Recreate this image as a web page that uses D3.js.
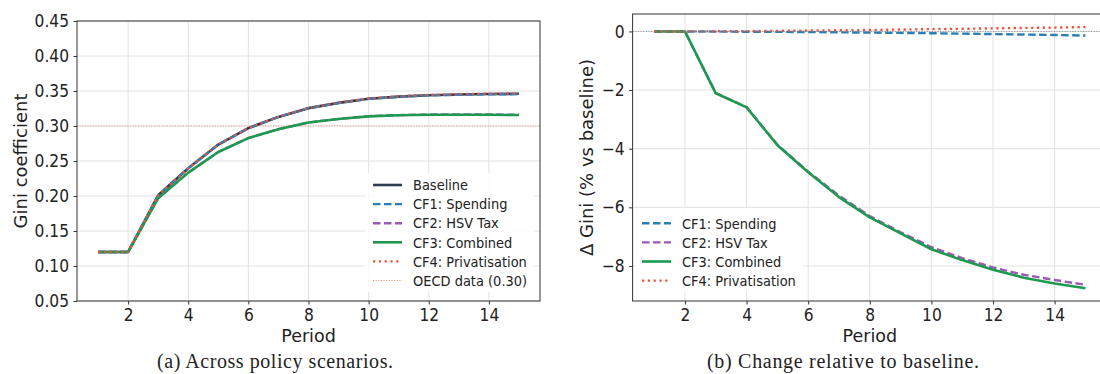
<!DOCTYPE html>
<html>
<head>
<meta charset="utf-8">
<script src="https://cdn.jsdelivr.net/npm/d3@7"></script>
<style>
  body { margin: 0; background: #fff; }
  svg { display: block; }
  text { font-family: "DejaVu Sans", sans-serif; fill: #222; }
  .caption { font-family: "Liberation Serif", "DejaVu Serif", serif; }
  .tall { transform-box: fill-box; transform-origin: center; transform: scaleY(1.12); }
</style>
</head>
<body>
<div id="chart"></div>
<script>
// periods shared by both panels
const periods = [1, 2, 3, 4, 5, 6, 7, 8, 9, 10, 11, 12, 13, 14, 15];

// (a) Gini coefficient per scenario
const giniBaseline = [0.120, 0.120, 0.201, 0.2396, 0.2735, 0.297, 0.313, 0.3255, 0.333, 0.339, 0.342, 0.344, 0.345, 0.3457, 0.346];
const giniSpending = [0.120, 0.120, 0.201, 0.2396, 0.2735, 0.2969, 0.3129, 0.3254, 0.3328, 0.3388, 0.3417, 0.3437, 0.3446, 0.3453, 0.3455];
const giniHsvTax   = [0.120, 0.120, 0.1968, 0.2334, 0.2629, 0.2828, 0.2955, 0.3050, 0.3102, 0.3141, 0.3156, 0.3163, 0.3164, 0.3164, 0.3161];
const giniCombined = [0.120, 0.120, 0.1968, 0.2334, 0.2629, 0.2827, 0.2953, 0.3049, 0.3101, 0.3138, 0.3153, 0.3160, 0.3160, 0.3160, 0.3157];
const giniPrivat   = [0.120, 0.120, 0.201, 0.2396, 0.2736, 0.2971, 0.3131, 0.3257, 0.3332, 0.3393, 0.3423, 0.3444, 0.3454, 0.3461, 0.3465];
const oecdGini = 0.30;

// (b) change vs baseline, %
const dSpending = [0, 0, -0.005, -0.01, -0.015, -0.02, -0.03, -0.04, -0.05, -0.06, -0.075, -0.09, -0.105, -0.12, -0.14];
const dHsvTax   = [0, 0, -2.10, -2.58, -3.86, -4.78, -5.60, -6.30, -6.85, -7.36, -7.73, -8.05, -8.30, -8.48, -8.64];
const dCombined = [0, 0, -2.11, -2.59, -3.88, -4.80, -5.65, -6.34, -6.89, -7.43, -7.80, -8.13, -8.40, -8.60, -8.76];
const dPrivat   = [0, 0, 0.005, 0.01, 0.02, 0.03, 0.04, 0.05, 0.065, 0.08, 0.09, 0.105, 0.12, 0.13, 0.15];

const xTicks = [2, 4, 6, 8, 10, 12, 14];
const giniTicks = [0.05, 0.10, 0.15, 0.20, 0.25, 0.30, 0.35, 0.40, 0.45];
const deltaTicks = [-8, -6, -4, -2, 0];

const styles = {
  "Baseline":          { color: "#2c3e50", dash: null,       width: 2.6 },
  "CF1: Spending":     { color: "#2980b9", dash: "7.5,3.5",  width: 2.4 },
  "CF2: HSV Tax":      { color: "#9b59b6", dash: "7.5,3.5",  width: 2.4 },
  "CF3: Combined":     { color: "#1e9a50", dash: null,       width: 2.6 },
  "CF4: Privatisation":{ color: "#f0503c", dash: "2.2,3.6",  width: 2.4 },
  "OECD data (0.30)":  { color: "#f08070", dash: "1,1.65",   width: 1 }
};

const W = 1100, H = 374;
const svg = d3.select("#chart").append("svg").attr("width", W).attr("height", H);

function panel(cfg) {
  const x = d3.scaleLinear().domain([0.3, 15.7]).range([cfg.left, cfg.right]);
  const y = d3.scaleLinear().domain(cfg.yDomain).range([cfg.bottom, cfg.top]);
  const g = svg.append("g");

  const clipId = "clip" + cfg.id;
  g.append("clipPath").attr("id", clipId).append("rect")
    .attr("x", cfg.left).attr("y", cfg.top)
    .attr("width", cfg.right - cfg.left).attr("height", cfg.bottom - cfg.top);

  // grid
  g.selectAll(".vg").data(xTicks).enter().append("line")
    .attr("x1", d => x(d)).attr("x2", d => x(d))
    .attr("y1", cfg.top).attr("y2", cfg.bottom)
    .attr("stroke", "#e2e2e2").attr("stroke-width", 1);
  g.selectAll(".hg").data(cfg.yTicks).enter().append("line")
    .attr("x1", cfg.left).attr("x2", cfg.right)
    .attr("y1", d => y(d)).attr("y2", d => y(d))
    .attr("stroke", "#e2e2e2").attr("stroke-width", 1);

  const plot = g.append("g").attr("clip-path", "url(#" + clipId + ")");

  (cfg.refs || []).forEach(r => {
    plot.append("line")
      .attr("x1", cfg.left).attr("x2", cfg.right)
      .attr("y1", y(r.value)).attr("y2", y(r.value))
      .attr("stroke", r.color).attr("stroke-width", r.width)
      .attr("stroke-dasharray", r.dash).attr("opacity", r.opacity);
  });

  const line = d3.line().x((d, i) => x(periods[i])).y(d => y(d));
  cfg.series.forEach(s => {
    const st = styles[s.name];
    plot.append("path").datum(s.values)
      .attr("d", line).attr("fill", "none")
      .attr("stroke", st.color).attr("stroke-width", st.width)
      .attr("stroke-dasharray", st.dash)
      .attr("stroke-linejoin", "round");
  });

  (cfg.overRefs || []).forEach(r => {
    plot.append("line")
      .attr("x1", cfg.left).attr("x2", cfg.right)
      .attr("y1", y(r.value)).attr("y2", y(r.value))
      .attr("stroke", r.color).attr("stroke-width", r.width)
      .attr("stroke-dasharray", r.dash).attr("opacity", r.opacity);
  });

  // axes
  const xAxis = d3.axisBottom(x).tickValues(xTicks).tickSize(3.5).tickPadding(5).tickSizeOuter(0);
  const yAxis = d3.axisLeft(y).tickValues(cfg.yTicks).tickSize(3.5).tickPadding(4.5)
    .tickSizeOuter(0).tickFormat(cfg.yFormat);
  const gx = g.append("g").attr("transform", "translate(0," + cfg.bottom + ")").call(xAxis);
  const gy = g.append("g").attr("transform", "translate(" + cfg.left + ",0)").call(yAxis);
  [gx, gy].forEach(a => {
    a.select(".domain").remove();
    a.selectAll("line").attr("stroke", "#333");
    a.selectAll("text").attr("font-size", 15.5).attr("fill", "#222")
      .attr("font-family", "DejaVu Sans").classed("tall", true);
  });

  // frame
  g.append("rect").attr("x", cfg.left).attr("y", cfg.top)
    .attr("width", cfg.right - cfg.left).attr("height", cfg.bottom - cfg.top)
    .attr("fill", "none").attr("stroke", "#333").attr("stroke-width", 1);

  // labels
  g.append("text").attr("x", (cfg.left + cfg.right) / 2).attr("y", 342)
    .attr("text-anchor", "middle").attr("font-size", 17.5).text("Period");
  g.append("text")
    .attr("transform", "translate(" + cfg.yLabelX + "," + (cfg.top + cfg.bottom) / 2 + ") rotate(-90)")
    .attr("text-anchor", "middle").attr("font-size", 18).text(cfg.yLabel);

  // legend
  const L = cfg.legend;
  g.append("rect").attr("x", L.x).attr("y", L.y).attr("width", L.w).attr("height", L.h)
    .attr("fill", "#fff").attr("fill-opacity", 0.85);
  L.items.forEach((name, i) => {
    const st = styles[name];
    const cy = L.firstRow + i * 19.1;
    g.append("line").attr("x1", L.hx).attr("x2", L.hx + 29)
      .attr("y1", cy).attr("y2", cy)
      .attr("stroke", st.color).attr("stroke-width", st.width)
      .attr("stroke-dasharray", st.dash);
    g.append("text").attr("x", L.hx + 40).attr("y", cy).attr("dy", "0.36em")
      .attr("font-size", 13).attr("class", "tall").text(name);
  });

  svg.append("text").attr("class", "caption")
    .attr("x", cfg.capX).attr("y", 368).attr("text-anchor", "middle")
    .attr("font-size", 20).attr("textLength", cfg.capW).attr("lengthAdjust", "spacing")
    .text(cfg.caption);
}

panel({
  id: "a", left: 77, right: 540, top: 21, bottom: 301,
  yDomain: [0.05, 0.45], yTicks: giniTicks, yFormat: d3.format(".2f"),
  yLabel: "Gini coefficient", yLabelX: 26.5,
  refs: [{ value: oecdGini, color: "#f08070", width: 1, dash: "1,1.65", opacity: 0.9 }],
  series: [
    { name: "Baseline", values: giniBaseline },
    { name: "CF1: Spending", values: giniSpending },
    { name: "CF2: HSV Tax", values: giniHsvTax },
    { name: "CF3: Combined", values: giniCombined },
    { name: "CF4: Privatisation", values: giniPrivat }
  ],
  legend: { x: 365, y: 173, w: 169, h: 119, hx: 373, firstRow: 185,
    items: ["Baseline", "CF1: Spending", "CF2: HSV Tax", "CF3: Combined", "CF4: Privatisation", "OECD data (0.30)"] },
  caption: "(a) Across policy scenarios.", capX: 275, capW: 236
});

panel({
  id: "b", left: 632.6, right: 1107, top: 14, bottom: 301,
  yDomain: [-9.195, 0.595], yTicks: deltaTicks, yFormat: d3.format("d"),
  yLabel: "Δ Gini (% vs baseline)", yLabelX: 593,
  overRefs: [{ value: 0, color: "#808080", width: 1, dash: "1,1.65", opacity: 0.9 }],
  series: [
    { name: "CF1: Spending", values: dSpending },
    { name: "CF2: HSV Tax", values: dHsvTax },
    { name: "CF3: Combined", values: dCombined },
    { name: "CF4: Privatisation", values: dPrivat }
  ],
  legend: { x: 636, y: 208, w: 168, h: 84, hx: 642, firstRow: 223.3,
    items: ["CF1: Spending", "CF2: HSV Tax", "CF3: Combined", "CF4: Privatisation"] },
  caption: "(b) Change relative to baseline.", capX: 843, capW: 272
});
</script>
</body>
</html>
